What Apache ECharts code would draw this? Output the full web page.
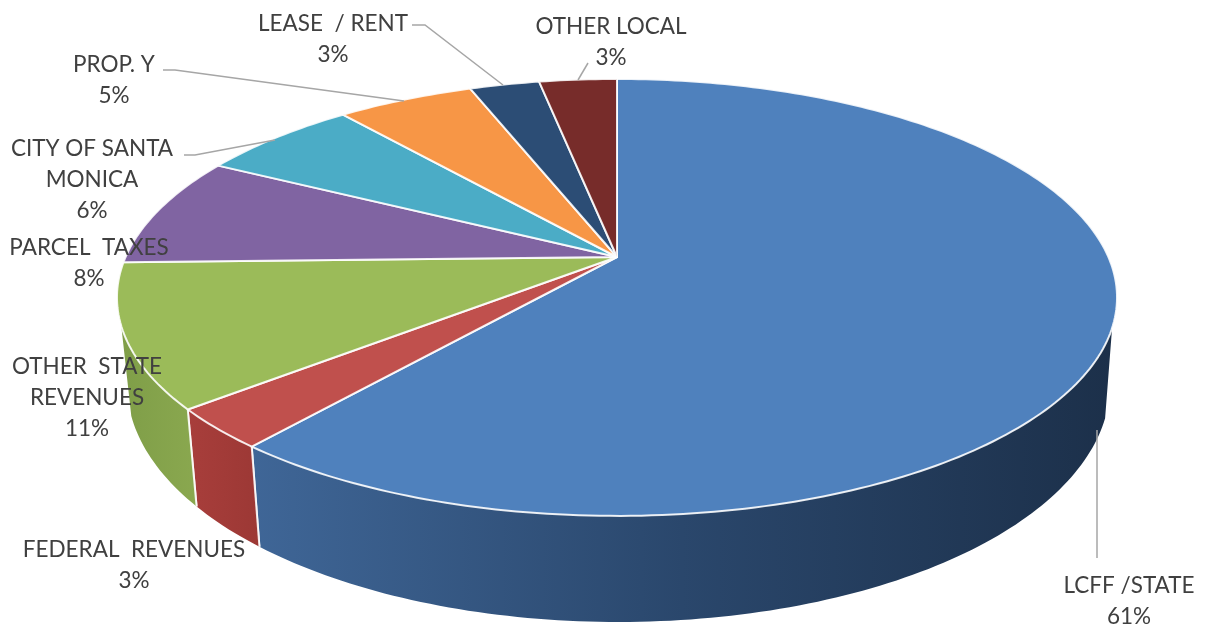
<!DOCTYPE html>
<html><head><meta charset="utf-8">
<style>html,body{margin:0;padding:0;background:#fff}#c{width:1205px;height:626px}</style>
<script src="https://cdn.jsdelivr.net/npm/echarts@6/dist/echarts.min.js"></script>
</head><body><div id="c"></div>
<script>
const categories = ['LCFF /STATE','FEDERAL  REVENUES','OTHER  STATE\nREVENUES','PARCEL  TAXES','CITY OF SANTA\nMONICA','PROP. Y','LEASE  / RENT','OTHER LOCAL'];
const shares = [61, 3, 10.6, 8.2, 6.2, 5.3, 2.7, 3];
const topColors = ['#4f81bd','#c0504d','#9bbb59','#8064a2','#4bacc6','#f79646','#2c4d75','#772c2a'];
const wallStops = [
  [[0,'#3f6697'],[0.5,'#2a476c'],[1,'#1c304a']],
  [[0,'#a83e3b'],[1,'#9c3835']],
  [[0,'#7f9e48'],[1,'#8aa84f']],
  null,null,null,null,null
];
// label centre (x, y of block middle) and leader polylines, in pixels
const labelPos = [[1129,601],[134,565],[87,398],[89,263],[92,180],[114,80],[333,39],[611,42]];
const leaders = [
  [[1097,558],[1097,430]],
  null,null,null,
  [[184,155],[195,155],[275,140]],
  [[163,70],[175,70],[404,101]],
  [[412,25],[425,25],[503,85]],
  [[588,63],[578,80]]
];

// perspective disc projection
const k = 0.185;
const topDisc = {cx:617, cy:257, A:491.4, B:211};
const botDisc = {cx:618.5, cy:341, A:483, B:229};
function proj(d, deg){
  const t = deg*Math.PI/180, s = Math.sin(t), c = Math.cos(t), w = 1 + k*c;
  return [d.cx + d.A*s/w, d.cy - d.B*c/w];
}
function arc(d, a0, a1){
  const pts = [], n = Math.max(2, Math.ceil(Math.abs(a1-a0)));
  for(let i=0;i<=n;i++) pts.push(proj(d, a0+(a1-a0)*i/n));
  return pts;
}
const total = shares.reduce((a,b)=>a+b,0);
const WALL_FROM = 108.5, WALL_TO = 252;
function range(i){
  let sum = 0; for(let j=0;j<i;j++) sum += shares[j];
  return [sum/total*360, (sum+shares[i])/total*360];
}
const BORDER = 'rgba(255,255,255,0.88)';

const chart = echarts.init(document.getElementById('c'), null, {renderer:'canvas'});
const rows = shares.map((v,i)=>[i,v]);
chart.setOption({
  animation:false,
  backgroundColor:'#fff',
  series:[
    { type:'custom', coordinateSystem:'none', silent:true, data:rows, z:1,
      renderItem(p, api){
        const i = api.value(0), [a0,a1] = range(i);
        const f = Math.max(a0,WALL_FROM), t = Math.min(a1,WALL_TO);
        if(!wallStops[i] || f>=t) return {type:'group',children:[]};
        const up = arc(topDisc,f,t), lo = arc(botDisc,f,t);
        const xs = up.concat(lo).map(q=>q[0]);
        const x0 = Math.min(...xs), x1 = Math.max(...xs);
        const stops = wallStops[i].map(s=>({offset:s[0],color:s[1]}));
        const grad = new echarts.graphic.LinearGradient(x0,0,x1,0,stops,true);
        const children = [{type:'polygon',shape:{points:up.concat(lo.reverse())},style:{fill:grad}}];
        if(a0>=WALL_FROM) children.push({type:'polyline',shape:{points:[proj(topDisc,a0),proj(botDisc,a0)]},style:{stroke:BORDER,lineWidth:2,fill:null}});
        if(a1<=WALL_TO) children.push({type:'polyline',shape:{points:[proj(topDisc,a1),proj(botDisc,a1)]},style:{stroke:BORDER,lineWidth:2,fill:null}});
        return {type:'group',children};
      }
    },
    { type:'custom', coordinateSystem:'none', silent:true, data:rows, z:2,
      renderItem(p, api){
        const i = api.value(0), [a0,a1] = range(i);
        const pts = [[topDisc.cx,topDisc.cy]].concat(arc(topDisc,a0,a1));
        return {type:'polygon',shape:{points:pts},
          style:{fill:topColors[i],stroke:BORDER,lineWidth:2,lineJoin:'round'}};
      }
    },
    { type:'custom', coordinateSystem:'none', silent:true, data:rows, z:3,
      renderItem(p, api){
        const i = api.value(0), v = api.value(1), ch = [];
        if(leaders[i]) ch.push({type:'polyline',shape:{points:leaders[i]},style:{stroke:'#a6a6a6',lineWidth:1.5,fill:null}});
        ch.push({type:'text',style:{
          text:categories[i]+'\n'+Math.round(v/total*100)+'%',
          x:labelPos[i][0],y:labelPos[i][1],align:'center',verticalAlign:'middle',
          font:'22.5px Lato, sans-serif',lineHeight:31,fill:'#404040'}});
        return {type:'group',children:ch};
      }
    }
  ]
});
</script></body></html>
